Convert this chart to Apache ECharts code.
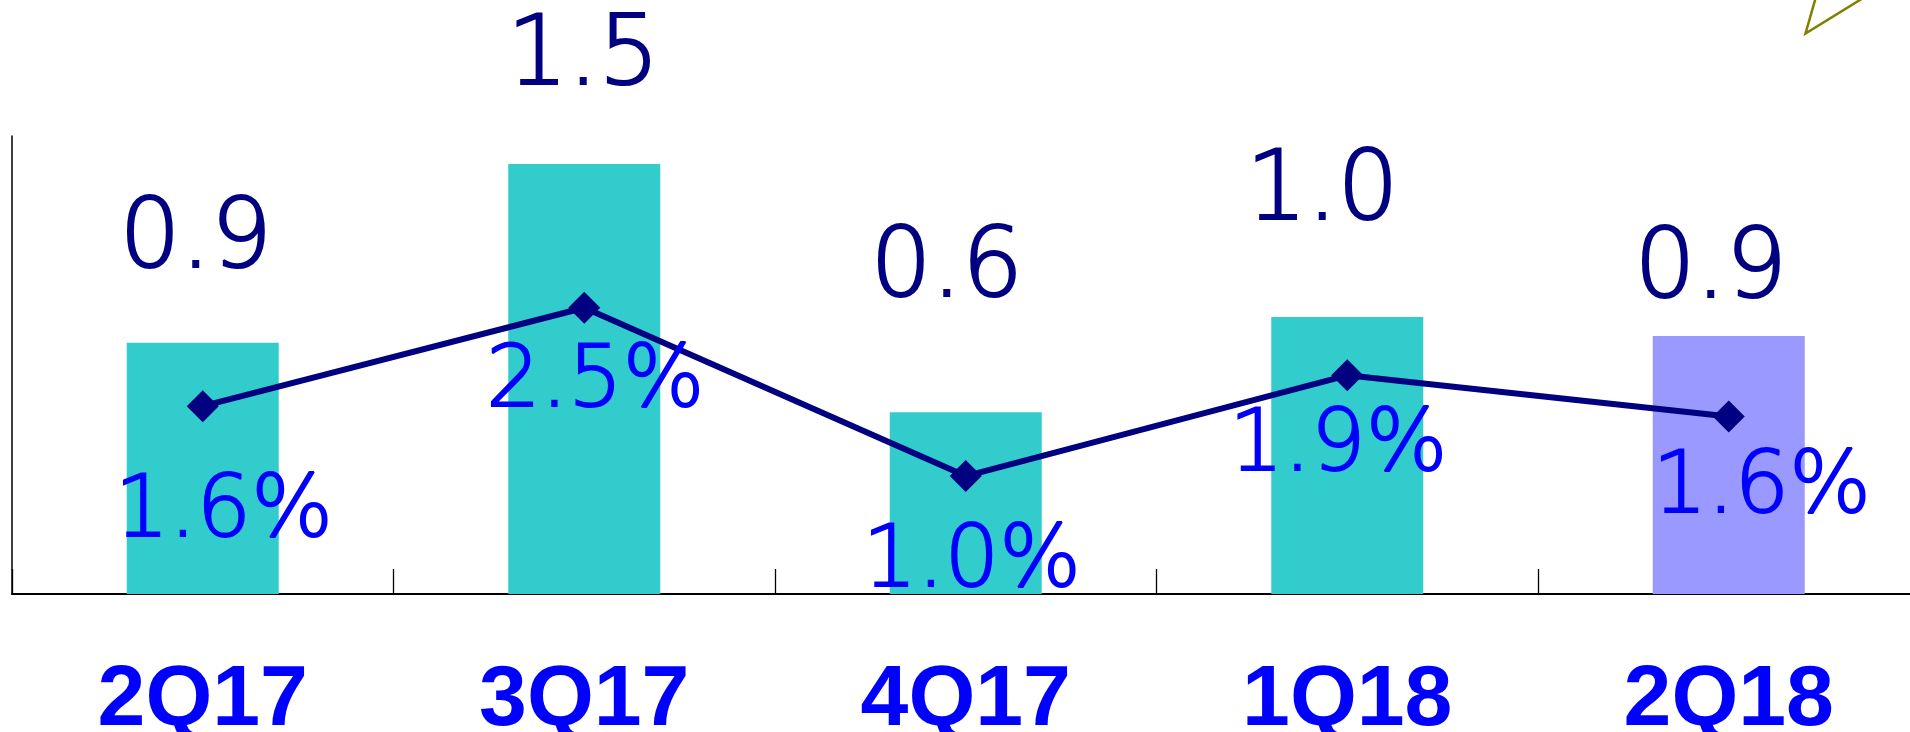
<!DOCTYPE html>
<html>
<head>
<meta charset="utf-8">
<script src="https://cdn.jsdelivr.net/npm/echarts@6/dist/echarts.min.js"></script>
<style>
  html, body { margin: 0; padding: 0; background: #fff; }
  #chart { width: 1910px; height: 732px; }
</style>
</head>
<body>
<div id="chart"></div>
<script>
// ---- data ----
const categories = ['2Q17', '3Q17', '4Q17', '1Q18', '2Q18'];
const barValues = [0.878, 1.502, 0.635, 0.968, 0.901];
const barLabels = ['0.9', '1.5', '0.6', '1.0', '0.9'];
const lineValues = [1.64, 2.5, 1.03, 1.91, 1.55];
const lineLabels = ['1.6%', '2.5%', '1.0%', '1.9%', '1.6%'];

// ---- styles ----
const barColors = ['#33CCCC', '#33CCCC', '#33CCCC', '#33CCCC', '#9999FF'];
const barLabelOffsets = [[-7, -53], [-1, -57], [-19, -93], [-25, -75], [-18, -16]];
const lineLabelOffsets = [[21, 107], [11, 76], [6, 88], [-9, 72], [33, 73]];

const chart = echarts.init(document.getElementById('chart'), null, { renderer: 'canvas' });

const option = {
  animation: false,
  backgroundColor: '#ffffff',
  grid: {
    left: 12, top: 136, width: 1907.5, height: 458,
    containLabel: false, outerBoundsMode: 'none'
  },
  xAxis: {
    type: 'category',
    data: categories,
    boundaryGap: true,
    axisLine: { show: true, lineStyle: { color: '#000', width: 2 } },
    axisTick: { show: true, inside: true, length: 25, alignWithLabel: false, lineStyle: { color: '#000', width: 1.3 } },
    axisLabel: {
      show: true, margin: 64, color: '#0000FF',
      fontFamily: 'Liberation Sans', fontWeight: 'bold', fontSize: 86, lineHeight: 86
    },
    splitLine: { show: false }
  },
  yAxis: [
    {
      type: 'value', min: 0, max: 1.6,
      axisLine: { show: true, lineStyle: { color: '#000', width: 1.5 } },
      axisTick: { show: false }, axisLabel: { show: false }, splitLine: { show: false }
    },
    {
      type: 'value', min: 0, max: 4, show: false,
      splitLine: { show: false }
    }
  ],
  series: [
    {
      type: 'bar',
      barWidth: 152,
      data: barValues.map((v, i) => ({
        value: v,
        itemStyle: { color: barColors[i] },
        label: { offset: barLabelOffsets[i] }
      })),
      label: {
        show: true, position: 'top', distance: 0,
        formatter: p => barLabels[p.dataIndex],
        color: '#000080', fontFamily: 'DejaVu Sans', fontWeight: 200,
        fontSize: 96, lineHeight: 96, textBorderWidth: 2.2, textBorderColor: '#000080'
      }
    },
    {
      type: 'line',
      yAxisIndex: 1,
      data: lineValues.map((v, i) => ({
        value: v,
        label: { offset: lineLabelOffsets[i] }
      })),
      symbol: 'diamond',
      symbolSize: 32,
      lineStyle: { color: '#000080', width: 6 },
      itemStyle: { color: '#000080' },
      label: {
        show: true, position: 'inside',
        formatter: p => lineLabels[p.dataIndex],
        color: '#0000FF', fontFamily: 'DejaVu Sans', fontWeight: 200,
        fontSize: 86, lineHeight: 86, textBorderWidth: 2, textBorderColor: '#0000FF'
      },
      z: 3
    }
  ],
  graphic: [
    {
      type: 'polyline',
      shape: { points: [[1816.5, -5], [1805.5, 33.5], [1868, -5]] },
      style: { stroke: '#808000', lineWidth: 2.5, fill: null }
    }
  ]
};

chart.setOption(option);
</script>
</body>
</html>
